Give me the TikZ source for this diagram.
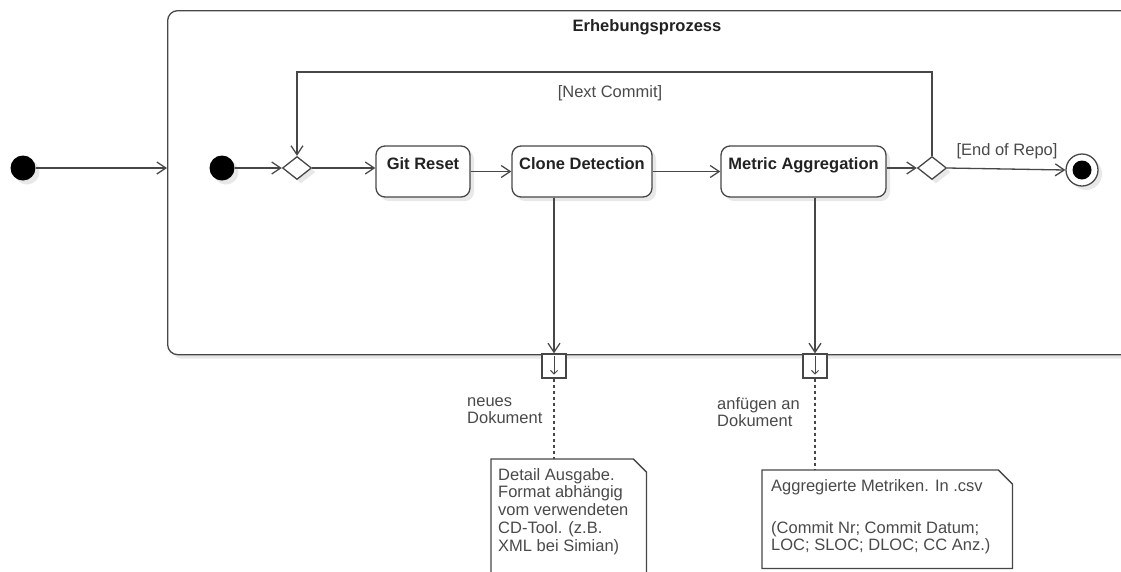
\documentclass[tikz,border=0pt]{standalone}
\usepackage{fontspec}
\setmainfont{Liberation Sans}
\usetikzlibrary{arrows.meta,shapes.geometric,shadows,calc}
\definecolor{ln}{HTML}{474747}
\definecolor{tx}{HTML}{4A4A4A}
\definecolor{bt}{HTML}{222222}
\definecolor{sh}{HTML}{E8E8E8}
\begin{document}
\begin{tikzpicture}[x=1pt,y=-1pt,
  umlline/.style={draw=ln, line width=1.3pt},
  arr/.style={umlline, -{Straight Barb[length=9pt,width=12pt,line width=1.3pt]}},
  pinarr/.style={draw=ln, line width=1pt, -{Straight Barb[length=3.5pt,width=7pt,line width=1pt]}},
  shd/.style={drop shadow={shadow xshift=4pt,shadow yshift=-4pt,fill=sh,opacity=1}},
  startnode/.style={circle, fill=black, minimum size=25pt, inner sep=0, shd},
  dec/.style={diamond, umlline, fill=white, minimum width=29pt, minimum height=23pt, inner sep=0, shd},
  act/.style={rectangle, rounded corners=9pt, umlline, fill=white, inner sep=0, minimum height=51pt,
     text height=23pt, text depth=28pt, font=\bfseries\fontsize{16.5}{18}\selectfont, text=bt, shd},
  lbl/.style={font=\fontsize{16.5}{17}\selectfont, text=tx, inner sep=0},
  pinbox/.style={rectangle, umlline, fill=white, minimum size=24pt, inner sep=0},
  dots/.style={draw=ln, line width=1.5pt, dash pattern=on 3pt off 3pt},
]
\useasboundingbox (0,0) rectangle (1121,571);
\clip (0,0) rectangle (1121,571);
\fill[white] (0,0) rectangle (1121,571);

% region
\node[rectangle, rounded corners=10pt, umlline, fill=white, minimum width=980pt, minimum height=344pt,
      anchor=north west, inner sep=0, shd] (region) at (167,10) {};
\node[font=\bfseries\fontsize{16.5}{18}\selectfont, text=bt, inner sep=0] (title) at (647,27) {Erhebungsprozess};

% outer start
\node[startnode] (s0) at (23,168) {};
\draw[arr] (s0) -- (s0 -| region.west);

% inner flow
\node[startnode] (s1) at (222,168) {};
\node[dec] (d1) at (297,168) {};
\node[act, minimum width=94pt] (git) at (423,171.5) {Git Reset};
\node[act, minimum width=140pt] (clone) at (582,171.5) {Clone Detection};
\node[act, minimum width=165pt] (metric) at (803.5,171.5) {Metric Aggregation};
\node[dec] (d2) at (932,168) {};
\node[circle, umlline, fill=white, minimum size=32pt, inner sep=0, shd] (final) at (1082,170) {};
\node[circle, fill=black, minimum size=19pt, inner sep=0] (finaldot) at (final) {};

\draw[arr] (s1) -- (d1.west);
\draw[arr] (d1.east) -- (d1.east -| git.west);
\draw[arr] (git.east) -- (clone.west);
\draw[arr] (clone.east) -- (metric.west);
\draw[arr] (metric.east |- d2.west) -- (d2.west);
\draw[arr] (d2.east) -- (final.west);

\coordinate (lt) at (0,72);
\draw[arr] (d2.north) |- (d1.north |- lt) -- (d1.north);

\node[lbl] (nc) at (610,93) {[Next Commit]};
\node[lbl] (eor) at (1007,151) {[End of Repo]};

% pins
\node[pinbox] (p1) at (554,366) {};
\node[pinbox] (p2) at (815,366) {};
\draw[arr] (p1.north |- clone.south) -- (p1.north);
\draw[arr] (p2.north |- metric.south) -- (p2.north);
\draw[pinarr] ([yshift=-3pt]p1.north) -- ([yshift=4pt]p1.south);
\draw[pinarr] ([yshift=-3pt]p2.north) -- ([yshift=4pt]p2.south);

\node[lbl, anchor=north west, align=left] (l1) at (467,397) {neues\\Dokument};
\node[lbl, anchor=north west, align=left] (l2) at (717,397) {anfügen an\\Dokument};

% notes
\node[anchor=north west, minimum width=155pt, minimum height=130pt, inner sep=0] (n1) at (491,459) {};
\draw[umlline, fill=white] (n1.south west) -- (n1.north west) -- ([xshift=-13pt]n1.north east)
   -- ([yshift=-13pt]n1.north east) -- (n1.south east);
\draw[dots] (p1.south) -- (p1.south |- n1.north);
\node[lbl, anchor=north west, align=left, font=\fontsize{16.5}{17.8}\selectfont] (t1) at (498,468)
  {Detail Ausgabe.\\Format abhängig\\vom verwendeten\\CD-Tool. (z.B.\\XML bei Simian)};

\node[anchor=north west, minimum width=250pt, minimum height=98pt, inner sep=0] (n2) at (762,470) {};
\draw[umlline, fill=white] (n2.north west) -- ([xshift=-14pt]n2.north east)
   -- ([yshift=-14pt]n2.north east) -- (n2.south east) -- (n2.south west) -- cycle;
\draw[dots] (p2.south) -- (p2.south |- n2.north);
\node[lbl, anchor=north west, align=left] (t2) at (771,479)
  {Aggregierte Metriken. In .csv\\[25pt](Commit Nr; Commit Datum;\\LOC; SLOC; DLOC; CC Anz.)};
\end{tikzpicture}
\end{document}
